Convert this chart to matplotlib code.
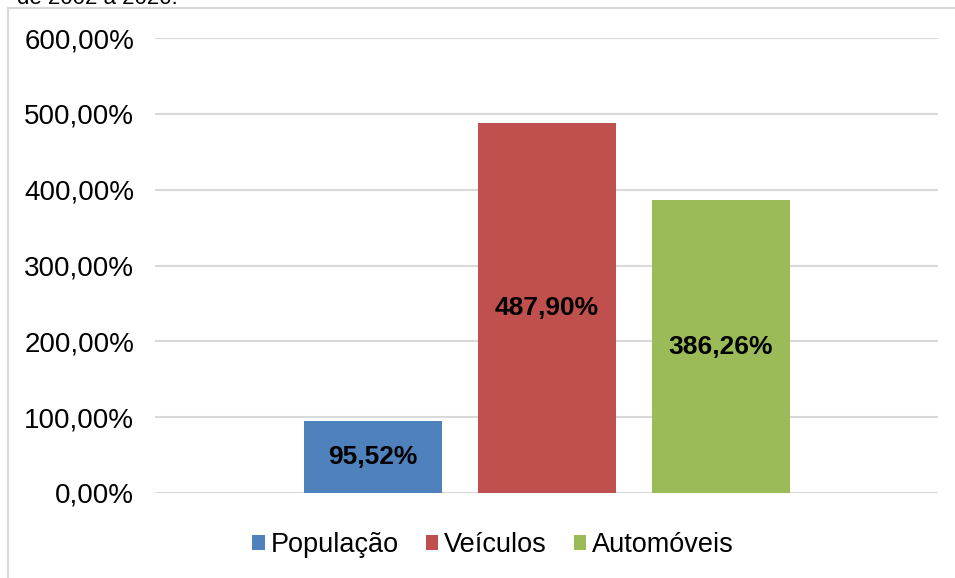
import matplotlib
matplotlib.use("Agg")
import matplotlib.pyplot as plt
from matplotlib.patches import Rectangle

plt.rcParams['font.family'] = ['Liberation Sans', 'DejaVu Sans']

series = ["População", "Veículos", "Automóveis"]
values = [95.52, 487.90, 386.26]
labels = ["95,52%", "487,90%", "386,26%"]
colors = ["#4F81BD", "#C0504D", "#9BBB59"]
yticks = [0, 100, 200, 300, 400, 500, 600]
ytick_labels = ["0,00%", "100,00%", "200,00%", "300,00%", "400,00%", "500,00%", "600,00%"]

W, H = 955, 578
fig = plt.figure(figsize=(W / 100, H / 100), dpi=100)

# outer chart border (partially cropped)
fig.patches.append(Rectangle((8 / W, -0.05), 1.1, (H - 8) / H + 0.05, transform=fig.transFigure,
                             fill=False, edgecolor="#d9d9d9", linewidth=1.5))
# cropped caption text at the top
fig.text(17 / W, 1 - 4 / H, "de 2002 a 2020.", fontsize=16, va="baseline", ha="left", color="black")

ax = fig.add_axes([155 / W, (H - 493) / H, (938 - 155) / W, (493 - 38) / H])
pos = [-1, 0, 1]
for p, v, c, s, lab in zip(pos, values, colors, series, labels):
    ax.bar(p, v, width=138 / 174, color=c, label=s, zorder=3)
    ax.text(p, v / 2, lab, ha="center", va="center", fontsize=19, fontweight="bold", color="black", zorder=4)

ax.set_xlim(-2.25, 2.25)
ax.set_ylim(0, 600)
ax.set_yticks(yticks)
ax.set_yticklabels(ytick_labels, fontsize=20)
ax.set_xticks([])
ax.tick_params(axis="y", length=0, pad=15)
for sp in ax.spines.values():
    sp.set_visible(False)
ax.yaxis.grid(True, color="#d9d9d9", linewidth=1.5, zorder=0)
ax.set_axisbelow(True)

leg = fig.legend(loc="center", bbox_to_anchor=(493 / W, 1 - 545 / H), ncol=3, frameon=False,
                 fontsize=19.5, handlelength=0.45, handleheight=0.45, handletextpad=0.22,
                 columnspacing=1.0)

fig.savefig("out.png", dpi=100)
